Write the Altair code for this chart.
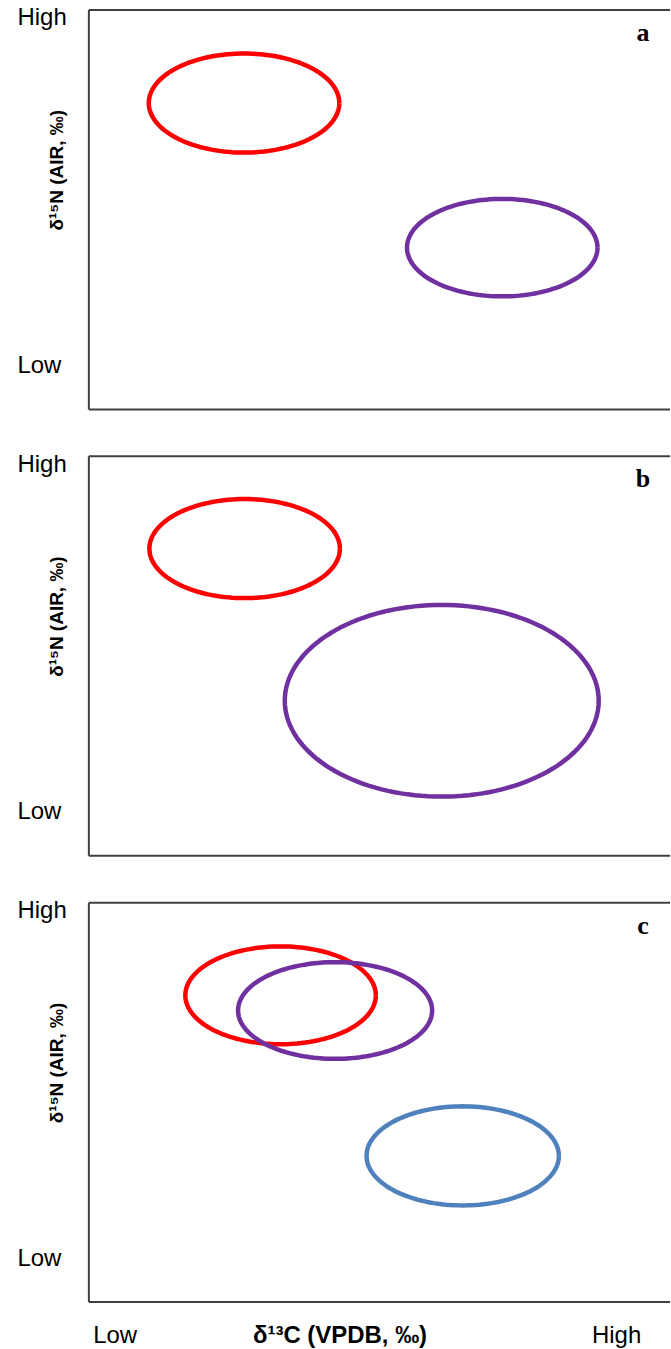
import altair as alt
import numpy as np
import pandas as pd

# Ellipse definitions (data units: x 0-9.7 = Low..High d13C, y 0-10 = Low..High d15N)
panels = ["a", "a", "b", "b", "c", "c", "c"]
groups = ["red", "purple", "red", "purple", "red", "purple", "blue"]
center_x = [2.59, 6.90, 2.60, 5.89, 3.20, 4.11, 6.24]
center_y = [7.67, 4.05, 7.69, 3.88, 7.68, 7.30, 3.66]
radius_x = [1.59, 1.59, 1.59, 2.62, 1.59, 1.62, 1.605]
radius_y = [1.24, 1.22, 1.24, 2.40, 1.225, 1.21, 1.24]

group_names = ["red", "purple", "blue"]
group_colors = ["#FF0000", "#7030A0", "#4F81BD"]

panel_letters = ["a", "b", "c"]
letter_x = [9.25, 9.25, 9.25]
letter_y = [9.42, 9.42, 9.42]

y_tick_values = [1.1, 9.8]
x_tick_values = [0.43, 8.8]

X_MAX = 9.7
Y_MAX = 10

# frame segments (left, top, bottom) — the right side runs off the page
frame_x = [0, 0, 0]
frame_x2 = [0, X_MAX, X_MAX]
frame_y = [0, Y_MAX, 0]
frame_y2 = [Y_MAX, Y_MAX, 0]

# Build outline points of each ellipse from its centre and radii
angles = np.linspace(0, 2 * np.pi, 145)
rows = []
for k in range(len(panels)):
    for i, t in enumerate(angles):
        rows.append({
            "panel": panels[k],
            "ellipse": k,
            "group": groups[k],
            "i": i,
            "x": center_x[k] + radius_x[k] * np.cos(t),
            "y": center_y[k] + radius_y[k] * np.sin(t),
        })
ell = pd.DataFrame(rows)
letters = pd.DataFrame({"panel": panel_letters, "x": letter_x, "y": letter_y})
frame = pd.DataFrame({"x": frame_x, "x2": frame_x2, "y": frame_y, "y2": frame_y2})

FONT = "Liberation Sans"

y_axis = alt.Axis(
    values=y_tick_values,
    labelExpr="datum.value > 5 ? 'High' : 'Low'",
    ticks=False, domain=False, grid=False,
    labelAlign="left", labelBaseline="middle", labelPadding=72,
    labelFont=FONT, labelFontSize=24, labelColor="#000000",
    title="δ¹⁵N (AIR, ‰)", titleFont=FONT, titleFontSize=19,
    titleFontWeight="bold", titleColor="#000000",
    titleAngle=270, titleX=-32, titleY=160,
    titleAlign="center", titleBaseline="middle",
)

x_axis = alt.Axis(
    values=x_tick_values,
    labelExpr="datum.value < 5 ? 'Low' : 'High'",
    ticks=False, domain=False, grid=False,
    labelFlush=False, labelOverlap=False,
    labelAlign="center", labelBaseline="alphabetic", labelPadding=40,
    labelFont=FONT, labelFontSize=24, labelColor="#000000",
    title="δ¹³C (VPDB, ‰)", titleFont=FONT, titleFontSize=24,
    titleFontWeight="bold", titleColor="#000000",
    titleX=251, titleY=40, titleAlign="center", titleBaseline="alphabetic",
)

xs = alt.Scale(domain=[0, X_MAX], nice=False, zero=False)
ys = alt.Scale(domain=[0, Y_MAX], nice=False, zero=False)


def panel(p, show_x):
    d = ell[ell["panel"] == p]
    rules = alt.Chart(frame).mark_rule(strokeWidth=2, color="#404040").encode(
        x=alt.X("x:Q", scale=xs, axis=x_axis if show_x else None),
        x2="x2:Q",
        y=alt.Y("y:Q", scale=ys, axis=y_axis),
        y2="y2:Q",
    )
    lines = alt.Chart(d).mark_line(strokeWidth=4.5).encode(
        x=alt.X("x:Q", scale=xs),
        y=alt.Y("y:Q", scale=ys),
        detail="ellipse:N",
        order="i:Q",
        color=alt.Color("group:N", scale=alt.Scale(domain=group_names, range=group_colors), legend=None),
    )
    txt = alt.Chart(letters[letters["panel"] == p]).mark_text(
        font="Liberation Serif", fontWeight="bold", fontSize=26, color="#000000",
        baseline="middle", align="center",
    ).encode(
        x=alt.X("x:Q", scale=xs),
        y=alt.Y("y:Q", scale=ys),
        text="panel:N",
    )
    return alt.layer(rules, lines, txt).properties(width=582, height=400)


chart = alt.vconcat(
    panel("a", False), panel("b", False), panel("c", True),
    spacing=47, bounds="flush",
).properties(
    padding={"left": 17, "top": 4, "right": 0, "bottom": 5},
    background="#ffffff",
).configure_view(stroke=None)

chart.save("out.html", embed_options={"renderer": "svg", "actions": False})
